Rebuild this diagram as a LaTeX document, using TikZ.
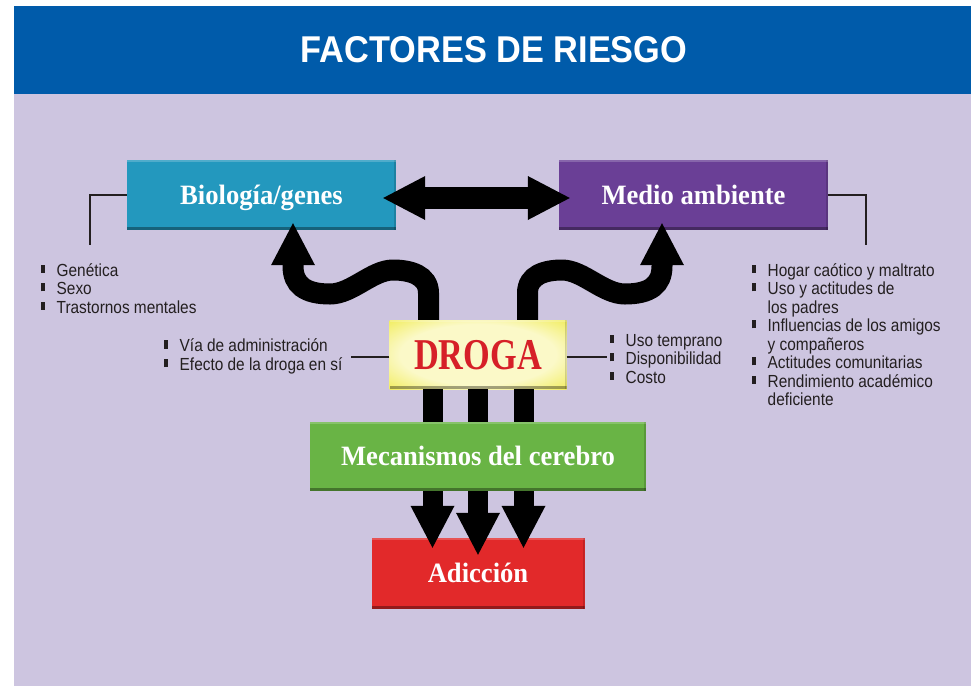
\documentclass[tikz,border=0pt]{standalone}
\usepackage{fontspec}
\setmainfont{Liberation Serif}
\newfontfamily\listfont[FakeStretch=0.88]{Liberation Sans}
\newfontfamily\titlefont[FakeStretch=0.92]{Liberation Sans}
\newfontfamily\boxfont[FakeStretch=0.95]{Liberation Serif}
\newfontfamily\drogafont[FakeStretch=0.78]{Liberation Serif}
\usetikzlibrary{arrows.meta}
\definecolor{hdrblue}{HTML}{005BAA}
\definecolor{lav}{HTML}{CDC5E0}
\definecolor{cbio}{HTML}{2398BE}
\definecolor{cmed}{HTML}{6A3F96}
\definecolor{cyel}{HTML}{EDE72D}
\definecolor{cdroga}{HTML}{D62028}
\definecolor{cgreen}{HTML}{69B445}
\definecolor{cadic}{HTML}{E2292A}
\definecolor{ink}{HTML}{231F20}
\definecolor{glowc}{HTML}{FBF9C8}
\pgfdeclareradialshading{drogaglow}{\pgfpoint{0bp}{0bp}}{color(0bp)=(glowc); color(22bp)=(glowc); color(42bp)=(cyel); color(80bp)=(cyel)}
\newcommand\lbul{\makebox[15.5pt][l]{\rule[3.3pt]{4pt}{8.3pt}}}
\newcommand\lind{\hspace*{15.5pt}}
\tikzset{
  box/.style={rectangle, inner sep=0pt, text=white,
    font=\boxfont\bfseries\fontsize{28}{30}\selectfont,
    text height=18.5pt, text depth=0pt,
    path picture={
      \fill[black,opacity=0.35] (path picture bounding box.south west) rectangle ([yshift=3pt]path picture bounding box.south east);
      \fill[black,opacity=0.15] ([xshift=-2pt]path picture bounding box.south east) rectangle (path picture bounding box.north east);
      \fill[white,opacity=0.2] ([yshift=-2pt]path picture bounding box.north west) rectangle (path picture bounding box.north east);}},
  conn/.style={draw=ink, line width=2pt},
  band/.style={draw=black, line width=21pt},
  bigtip/.tip={Triangle[width=44pt,length=42pt,line width=0pt]},
  listtxt/.style={inner sep=0pt, anchor=north west, align=left, text=ink,
    font=\listfont\fontsize{17.5}{18.5}\selectfont},
}
\begin{document}
\begin{tikzpicture}[x=1pt,y=-1pt]
\useasboundingbox (0,0) rectangle (971,686);
\fill[white] (0,0) rectangle (971,686);
\fill[lav] (14,94) rectangle (971,686);
\fill[hdrblue] (14,6) rectangle (971,94);
\node[text=white, inner sep=0pt, font=\titlefont\bfseries\fontsize{37.3}{40}\selectfont] (title) at (494,50) {FACTORES DE RIESGO};

% boxes
\node[box, fill=cbio, minimum width=269pt, minimum height=70pt] (bio) at (261.5,195) {Biología/genes};
\node[box, fill=cmed, minimum width=269pt, minimum height=70pt] (medio) at (693.5,195) {Medio ambiente};
\node[box, shading=drogaglow, minimum width=177pt, minimum height=69pt, text=cdroga,
      font=\drogafont\bfseries\fontsize{44}{46}\selectfont, text height=29pt] (droga) at (478,354.5) {DROGA};
\node[box, fill=cgreen, minimum width=336pt, minimum height=69pt] (mec) at (478,456.5) {Mecanismos del cerebro};
\node[box, fill=cadic, minimum width=213pt, minimum height=71pt] (adic) at (478,573.5) {Adicción};

% lists and their connectors
\coordinate (bioEnd) at (90,245);
\draw[conn] (bio.west) -| (bioEnd);
\node[listtxt] (bioList) at (41,259) {\rule{0pt}{17pt}\lbul Genética\\\lbul Sexo\\\lbul Trastornos mentales};

\coordinate (medEnd) at (866,245);
\draw[conn] (medio.east) -| (medEnd);
\node[listtxt] (medList) at (752,259) {\rule{0pt}{17pt}\lbul Hogar caótico y maltrato\\\lbul Uso y actitudes de\\\lind los padres\\\lbul Influencias de los amigos\\\lind y compañeros\\\lbul Actitudes comunitarias\\\lbul Rendimiento académico\\\lind deficiente};

\coordinate (dlEnd) at (351,357);
\draw[conn] (droga.west |- dlEnd) -- (dlEnd);
\node[listtxt] (dlList) at (164,334.7) {\rule{0pt}{17pt}\lbul Vía de administración\\\lbul Efecto de la droga en sí};

\coordinate (drEnd) at (607,357);
\draw[conn] (droga.east |- drEnd) -- (drEnd);
\node[listtxt] (drList) at (610,329) {\rule{0pt}{17pt}\lbul Uso temprano\\\lbul Disponibilidad\\\lbul Costo};

% curvy arrows from DROGA
\draw[band, -{bigtip}] ([xshift=-49.5pt]droga.north) -- (428.5,293)
   .. controls (428.5,275) and (410,270) .. (393,270)
   .. controls (372,270) and (352,294) .. (330,294)
   .. controls (305,294) and (293,285) .. (293,266)
   -- ([xshift=31.5pt,yshift=7pt]bio.south);
\draw[band, -{bigtip}] ([xshift=49.5pt]droga.north) -- (527.5,293)
   .. controls (527.5,275) and (545,270) .. (562,270)
   .. controls (583,270) and (603,294) .. (625,294)
   .. controls (650,294) and (662,285) .. (662,266)
   -- ([xshift=-31.5pt,yshift=7pt]medio.south);

% double arrow
\draw[band, line width=22pt, {bigtip}-{bigtip}] ([xshift=-13pt,yshift=-3pt]bio.east) -- ([xshift=11pt,yshift=-3pt]medio.west);

% bars DROGA -> Mecanismos
\foreach \dx in {-45.5,0,45.5}
  \draw[band, line width=20pt] ([xshift=\dx pt]droga.south) -- ([xshift=\dx pt]mec.north);

% arrows Mecanismos -> Adiccion
\draw[band, line width=20pt, -{bigtip}] ([xshift=-45.5pt]mec.south) -- ([xshift=-45.5pt,yshift=-10pt]adic.north);
\draw[band, line width=20pt, -{bigtip}] (mec.south) -- ([yshift=-17pt]adic.north);
\draw[band, line width=20pt, -{bigtip}] ([xshift=45.5pt]mec.south) -- ([xshift=45.5pt,yshift=-10pt]adic.north);
\end{tikzpicture}
\end{document}
